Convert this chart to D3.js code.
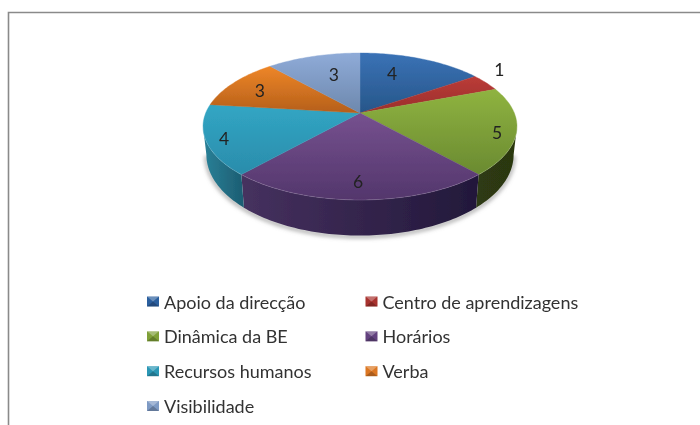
<!DOCTYPE html>
<html>
<head>
<meta charset="utf-8">
<script src="https://cdn.jsdelivr.net/npm/d3@7"></script>
<style>
  html, body { margin: 0; background: #fff; }
  svg { display: block; font-family: Lato, "Open Sans", sans-serif; }
</style>
</head>
<body>
<div id="chart-container"></div>
<script>
const categories = ["Apoio da direcção", "Centro de aprendizagens", "Dinâmica da BE", "Horários", "Recursos humanos", "Verba", "Visibilidade"];
const values = [4, 1, 5, 6, 4, 3, 3];

const topColors = ["#3a72b6", "#bb3c38", "#8fb340", "#76518f", "#31a6c4", "#ee8628", "#8fabd8"];
const bottomColors = ["#275689", "#9a2e2b", "#6a8a31", "#53366c", "#2b8cab", "#b55f1a", "#6d88ad"];
const wallLeftColors = ["#1f4266", "#6e201e", "#2e3a12", "#46315f", "#2a8198", "#7a4011", "#4d6282"];
const wallRightColors = ["#1f4266", "#6e201e", "#2b3711", "#22183a", "#1d5f74", "#7a4011", "#4d6282"];
const swatchColors = ["#2c5f9e", "#a8322f", "#7fa038", "#63437f", "#2c97b5", "#dc7722", "#7e9ac4"];

// nudges from the projected mid angle, labels are best fit in the original
const labelNudge = [[-13, 0], [49, -22], [29, 7], [-2, 11], [-30, 7.5], [-10, -1], [8, 2.5]];

const width = 700;
const height = 425;

const svg = d3.select("#chart-container").append("svg")
  .attr("width", width)
  .attr("height", height);

const defs = svg.append("defs");
defs.append("filter").attr("id", "soft")
  .append("feGaussianBlur").attr("stdDeviation", 0.45);
const shadowFilter = defs.append("filter").attr("id", "shadow")
  .attr("x", "-10%").attr("y", "-10%").attr("width", "120%").attr("height", "120%");
shadowFilter.append("feGaussianBlur").attr("stdDeviation", 2);

// frame, only top and left are visible in the picture
svg.append("path")
  .attr("d", "M700,12.5H8.5V425")
  .attr("fill", "none")
  .attr("stroke", "#8a8a8a")
  .attr("stroke-width", 1.6);

// the pie lies tilted, so angles go through a projective map
const cx = 360;
const cy = 113;
const persp = 0.1837;
const topRim = { a: 154.3, b: 71, dy: 0 };
const bottomRim = { a: 151, b: 78, dy: 27 };

const project = (angle, r, rim) => {
  const w = 1 + persp * r * Math.cos(angle);
  return [
    cx + (rim.a * r * Math.sin(angle)) / w,
    cy + rim.dy - (rim.b * r * Math.cos(angle)) / w,
  ];
};

const pie = d3.pie().sort(null);
const arcs = pie(values);
const line = d3.line();

const arcPoints = (start, end, rim) => {
  const n = Math.max(2, Math.ceil((end - start) / 0.02));
  return d3.range(n + 1).map((i) => project(start + ((end - start) * i) / n, 1, rim));
};

// walls are visible between the two side extremes of the rim
const wallStart = Math.acos(-persp);
const wallEnd = 2 * Math.PI - wallStart;

const chart = svg.append("g").attr("filter", "url(#soft)");

const wallArcs = arcs
  .map((d, i) => ({ i, start: Math.max(d.startAngle, wallStart), end: Math.min(d.endAngle, wallEnd) }))
  .filter((d) => d.end > d.start);

// soft shadow under the front wall
chart.append("path")
  .attr("d", line(arcPoints(wallStart, wallEnd, { ...bottomRim, dy: bottomRim.dy + 1 })))
  .attr("fill", "none")
  .attr("stroke", "#999")
  .attr("stroke-width", 3)
  .attr("filter", "url(#shadow)");

wallArcs.forEach((d) => {
  const top = arcPoints(d.start, d.end, topRim);
  const bottom = arcPoints(d.start, d.end, bottomRim);
  const gradId = `wall-${d.i}`;
  const grad = defs.append("linearGradient").attr("id", gradId)
    .attr("gradientUnits", "userSpaceOnUse")
    .attr("x1", d3.min(top, (p) => p[0])).attr("x2", d3.max(top, (p) => p[0]))
    .attr("y1", 0).attr("y2", 0);
  grad.append("stop").attr("offset", 0).attr("stop-color", wallLeftColors[d.i]);
  grad.append("stop").attr("offset", 1).attr("stop-color", wallRightColors[d.i]);
  chart.append("path")
    .attr("d", `${line(top.concat(bottom.reverse()))}Z`)
    .attr("fill", `url(#${gradId})`);
});

arcs.forEach((d, i) => {
  const rim = arcPoints(d.startAngle, d.endAngle, topRim);
  const pts = [[cx, cy]].concat(rim);
  const gradId = `face-${i}`;
  const grad = defs.append("linearGradient").attr("id", gradId)
    .attr("gradientUnits", "userSpaceOnUse")
    .attr("x1", 0).attr("x2", 0)
    .attr("y1", d3.min(pts, (p) => p[1])).attr("y2", d3.max(pts, (p) => p[1]));
  grad.append("stop").attr("offset", 0).attr("stop-color", topColors[i]);
  grad.append("stop").attr("offset", 1).attr("stop-color", bottomColors[i]);
  chart.append("path")
    .attr("d", `${line(pts)}Z`)
    .attr("fill", `url(#${gradId})`)
    .attr("stroke", `url(#${gradId})`)
    .attr("stroke-width", 0.4);
});

// thin light bevel along the front edge
chart.append("path")
  .attr("d", line(arcPoints(wallStart, wallEnd, topRim)))
  .attr("fill", "none")
  .attr("stroke", "#fff")
  .attr("stroke-opacity", 0.12)
  .attr("stroke-width", 1);

const valueLabels = svg.append("g").attr("filter", "url(#soft)");
valueLabels.selectAll("text")
  .data(arcs)
  .join("text")
  .attr("x", (d, i) => project((d.startAngle + d.endAngle) / 2, 0.7, topRim)[0] + labelNudge[i][0])
  .attr("y", (d, i) => project((d.startAngle + d.endAngle) / 2, 0.7, topRim)[1] + labelNudge[i][1])
  .attr("text-anchor", "middle")
  .attr("dominant-baseline", "central")
  .attr("font-size", 17.5)
  .attr("fill", "#222")
  .text((d) => d.data);

// legend runs in two columns, row by row
const rowCount = Math.ceil(categories.length / 2);
const legendY = d3.scaleLinear().domain([0, rowCount - 1]).range([301.5, 406]);
const legendX = d3.scaleOrdinal().domain([0, 1]).range([147, 365.5]);

const legend = svg.append("g").attr("filter", "url(#soft)");
const items = legend.selectAll("g")
  .data(categories)
  .join("g")
  .attr("transform", (d, i) => `translate(${legendX(i % 2)},${legendY(Math.floor(i / 2))})`);

const swatchW = 12;
const swatchH = 10;
items.append("rect")
  .attr("x", 0)
  .attr("y", -swatchH / 2)
  .attr("width", swatchW)
  .attr("height", swatchH)
  .attr("fill", (d, i) => swatchColors[i]);

// bevelled look of the swatches
items.append("path")
  .attr("d", `M0,${-swatchH / 2}H${swatchW}L${swatchW / 2},0Z`)
  .attr("fill", "#fff")
  .attr("fill-opacity", 0.3);
items.append("path")
  .attr("d", `M0,${swatchH / 2}H${swatchW}L${swatchW / 2},0Z`)
  .attr("fill", "#000")
  .attr("fill-opacity", 0.22);

items.append("text")
  .attr("x", 17)
  .attr("y", 0)
  .attr("dominant-baseline", "central")
  .attr("font-size", 18)
  .attr("fill", "#333")
  .text((d) => d);
</script>
</body>
</html>
